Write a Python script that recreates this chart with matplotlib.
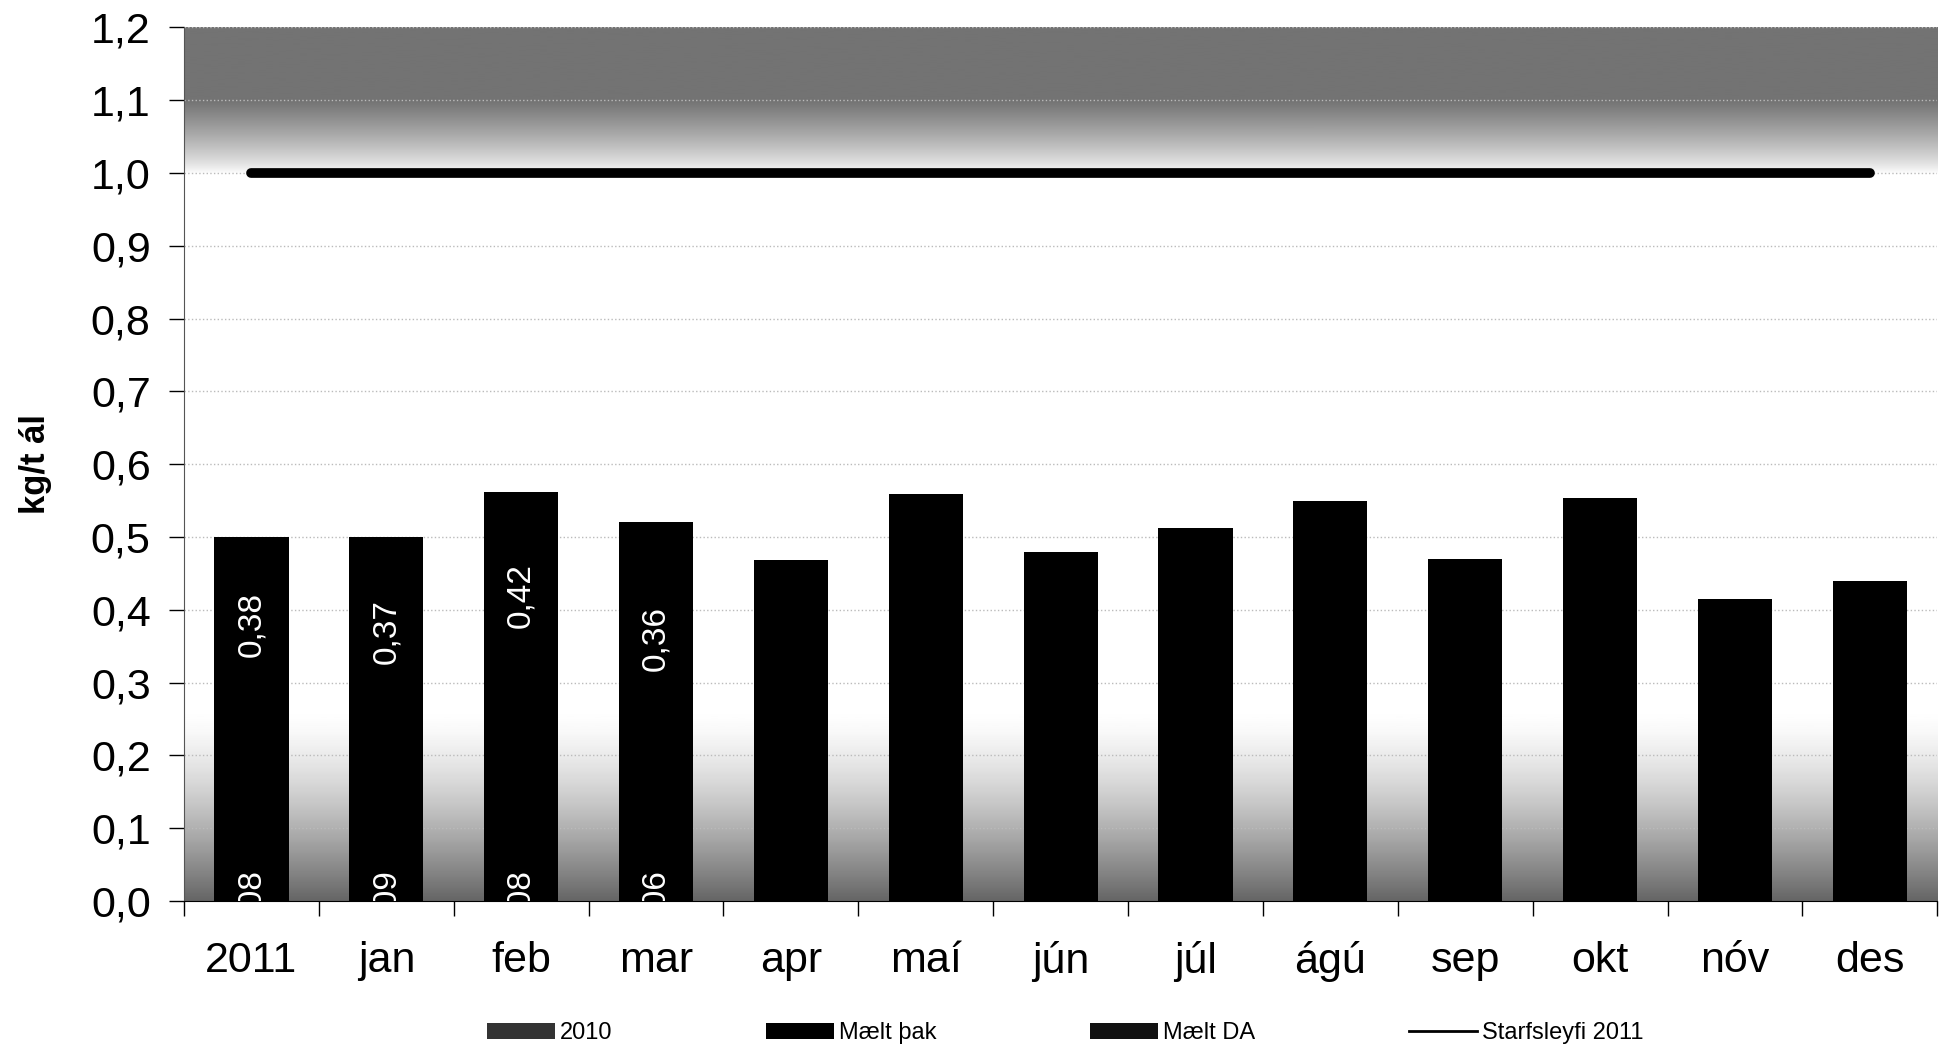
#Chart: kg/t ál per month, 2011 with permit line
import numpy as np
import matplotlib.pyplot as plt
from matplotlib.patches import Patch
from matplotlib.lines import Line2D

plt.rcParams['font.family'] = ['Liberation Sans', 'DejaVu Sans']

#data
months = ["2011", "jan", "feb", "mar", "apr", "maí", "jún", "júl", "ágú", "sep", "okt", "nóv", "des"]
totals = [0.50, 0.50, 0.562, 0.521, 0.468, 0.559, 0.479, 0.513, 0.550, 0.470, 0.554, 0.415, 0.439]
thak_labels = [0.38, 0.37, 0.42, 0.36]    #only first 4 bars are labelled
da_labels = [0.08, 0.09, 0.08, 0.06]
permit = [1.0]*len(months)
yticks = [0.0, 0.1, 0.2, 0.3, 0.4, 0.5, 0.6, 0.7, 0.8, 0.9, 1.0, 1.1, 1.2]

fig = plt.figure(figsize=(19.47, 10.49), dpi=100)
ax = fig.add_axes([0.0945, 0.141, 0.9005, 0.833])

x = np.arange(len(months))

#shaded bands at top and bottom (the scan has grainy gray there)
yy = np.linspace(0, 1.2, 400)
dark = np.zeros_like(yy)
top = np.clip((yy-1.0)/0.1, 0, 1)
dark += 0.55*top**0.8
bot = np.clip(1-yy/0.26, 0, 1)
dark += 0.6*bot**1.4
img = (1-dark)[::-1].reshape(-1, 1)
ax.imshow(img, cmap='gray', vmin=0, vmax=1, aspect='auto',
          extent=(-0.5, len(months)-0.5, 0, 1.2), zorder=0, interpolation='bilinear')

for t in yticks[1:]:
    ax.axhline(t, color='#bbbbbb', lw=1, ls=':', zorder=1)

ax.bar(x, totals, width=0.55, color='black', zorder=3)

for i in range(len(thak_labels)):
    ax.text(x[i], thak_labels[i], ("%.2f" % thak_labels[i]).replace('.', ','),
            rotation=90, color='white', ha='center', va='center', fontsize=24, zorder=4)
    ax.text(x[i], 0.0, ("%.2f" % da_labels[i]).replace('.', ','),
            rotation=90, color='white', ha='center', va='center', fontsize=24, zorder=4,
            clip_on=True)

ax.plot(x, permit, color='black', lw=7, solid_capstyle='round', zorder=5)

ax.set_xlim(-0.5, len(months)-0.5)
ax.set_ylim(0, 1.2)
ax.set_yticks(yticks)
ax.set_yticklabels([("%.1f" % t).replace('.', ',') for t in yticks], fontsize=31)
ax.tick_params(axis='y', length=11, width=1, pad=13)
ax.set_xticks(x)
ax.set_xticklabels(months, fontsize=31)
ax.tick_params(axis='x', length=0, pad=29)
ax.set_xticks(np.arange(len(months)+1)-0.5, minor=True)
ax.tick_params(axis='x', which='minor', length=11, width=1)

ax.set_ylabel("kg/t ál", fontsize=25, fontweight='bold')
ax.yaxis.set_label_coords(-0.075, 0.5)

ax.spines['top'].set_visible(False)
ax.spines['right'].set_visible(False)
ax.spines['left'].set_color('#555555')

handles = [Patch(facecolor='#333333', edgecolor='none'),
           Patch(facecolor='black', edgecolor='none'),
           Patch(facecolor='#111111', edgecolor='none'),
           Line2D([0], [0], color='black', lw=2)]
fig.legend(handles, ["2010", "Mælt þak", "Mælt DA", "Starfsleyfi 2011"],
           loc='center', bbox_to_anchor=(0.547, 0.015), ncol=4, frameon=False,
           fontsize=17, handlelength=2.9, handletextpad=0.2, columnspacing=6.5)

fig.savefig("out.png", dpi=100)
